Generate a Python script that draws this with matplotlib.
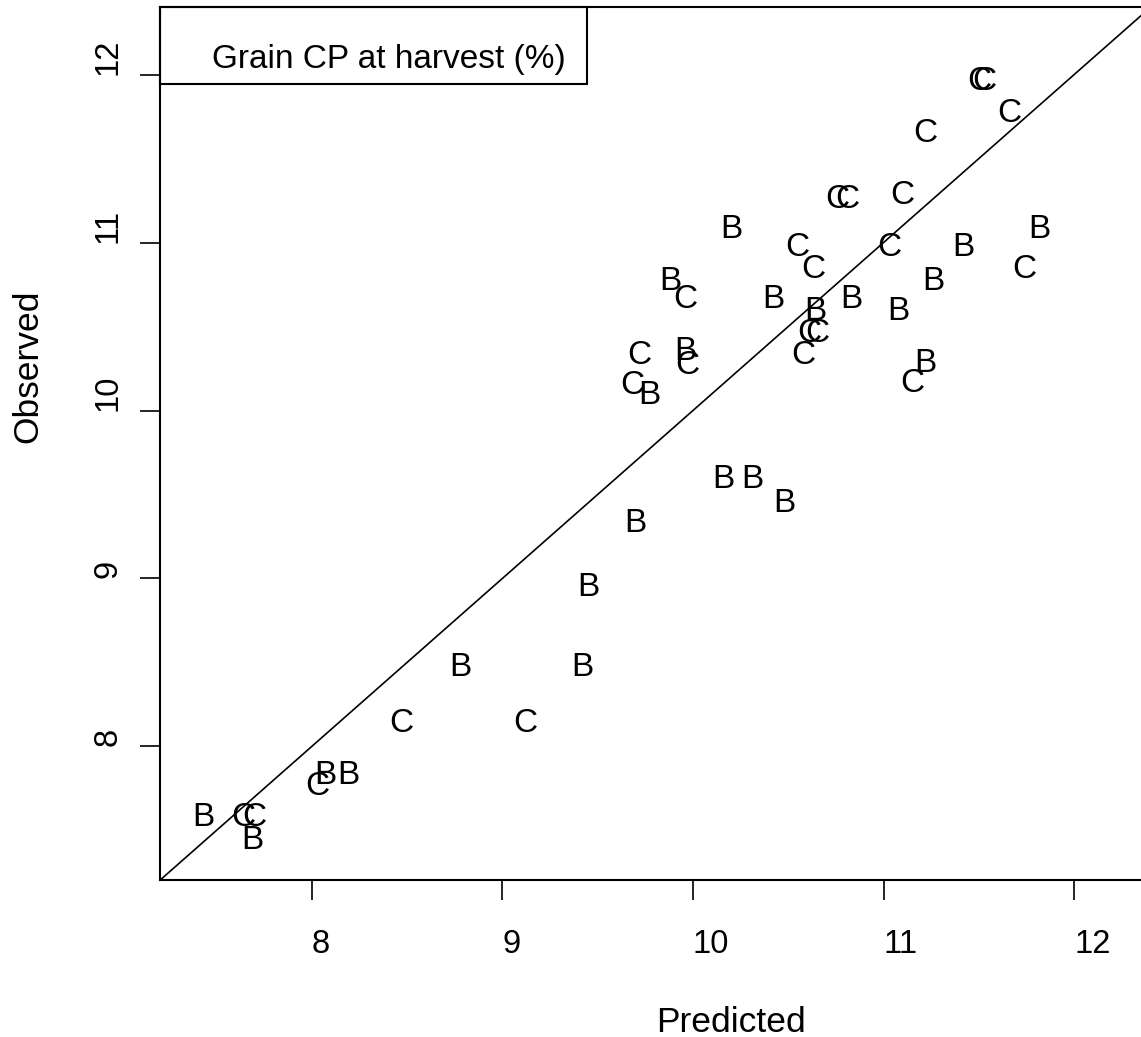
import matplotlib
matplotlib.use("Agg")
import matplotlib.pyplot as plt
from matplotlib.patches import Rectangle

plt.rcParams['font.family'] = ['Liberation Sans', 'DejaVu Sans']

# predicted / observed grain CP (%) for the two sites
pred_B = [7.43, 7.69, 8.07, 8.19, 8.78, 9.42, 9.45, 9.70, 10.16, 10.31, 10.48,
          10.20, 9.88, 9.77, 9.96, 10.42, 10.64, 10.83, 11.82, 11.42, 11.26,
          11.08, 11.22]
obs_B = [7.60, 7.46, 7.85, 7.85, 8.49, 8.49, 8.97, 9.35, 9.61, 9.61, 9.47,
         11.10, 10.79, 10.11, 10.37, 10.68, 10.61, 10.68, 11.10, 10.99, 10.79,
         10.61, 10.30]
pred_C = [7.64, 7.70, 8.03, 8.47, 9.12, 9.96, 9.72, 9.68, 9.97, 10.55, 10.63,
          10.61, 10.65, 10.58, 10.76, 10.81, 11.50, 11.53, 11.66, 11.22, 11.10,
          11.03, 11.74, 11.15]
obs_C = [7.60, 7.60, 7.78, 8.16, 8.16, 10.68, 10.35, 10.17, 10.29, 10.99, 10.86,
         10.48, 10.48, 10.35, 11.28, 11.28, 11.98, 11.98, 11.79, 11.67, 11.30,
         10.99, 10.86, 10.18]

ticks = [8, 9, 10, 11, 12]
title = 'Grain CP at harvest (%)'

W, H = 1141, 1037
fig = plt.figure(figsize=(W / 100, H / 100), dpi=100)
ax = fig.add_axes([160 / W, (H - 879.5) / H, 990.6 / W, 872.8 / H])

fs = 24
for x, y in zip(pred_B, obs_B):
    ax.text(x, y, 'B', ha='center', va='center_baseline', fontsize=fs)
for x, y in zip(pred_C, obs_C):
    ax.text(x, y, 'C', ha='center', va='center_baseline', fontsize=fs)

ax.axline((8, 8), slope=1, color='black', lw=1.2)

ax.set_xlim(7.204, 12.401)
ax.set_ylim(7.208, 12.404)
ax.set_xticks(ticks)
ax.set_yticks(ticks)
ax.set_xticklabels([str(t) for t in ticks], ha='left')
ax.set_yticklabels([str(t) for t in ticks], rotation=90, va='bottom', ha='right')
ax.tick_params(axis='x', length=14.4, width=1.2, pad=21, labelsize=23.5)
ax.tick_params(axis='y', length=14.4, width=1.2, pad=12, labelsize=23.5)
for s in ax.spines.values():
    s.set_linewidth(1.5)

# legend-like box in the top left corner
ax.add_patch(Rectangle((0, 0.9114), 0.431, 0.0886, transform=ax.transAxes,
                       fill=False, lw=1.5, clip_on=False))
ax.text(0.0525, 0.9298, title, transform=ax.transAxes, ha='left',
        va='baseline', fontsize=24)

fig.text(656 / W, 1 - 1022 / H, 'Predicted', ha='left', va='center', fontsize=25.5)
fig.text(28 / W, 1 - 443 / H, 'Observed', rotation=90, ha='center', va='bottom',
         fontsize=25.5)

fig.savefig('out.png', dpi=100)
